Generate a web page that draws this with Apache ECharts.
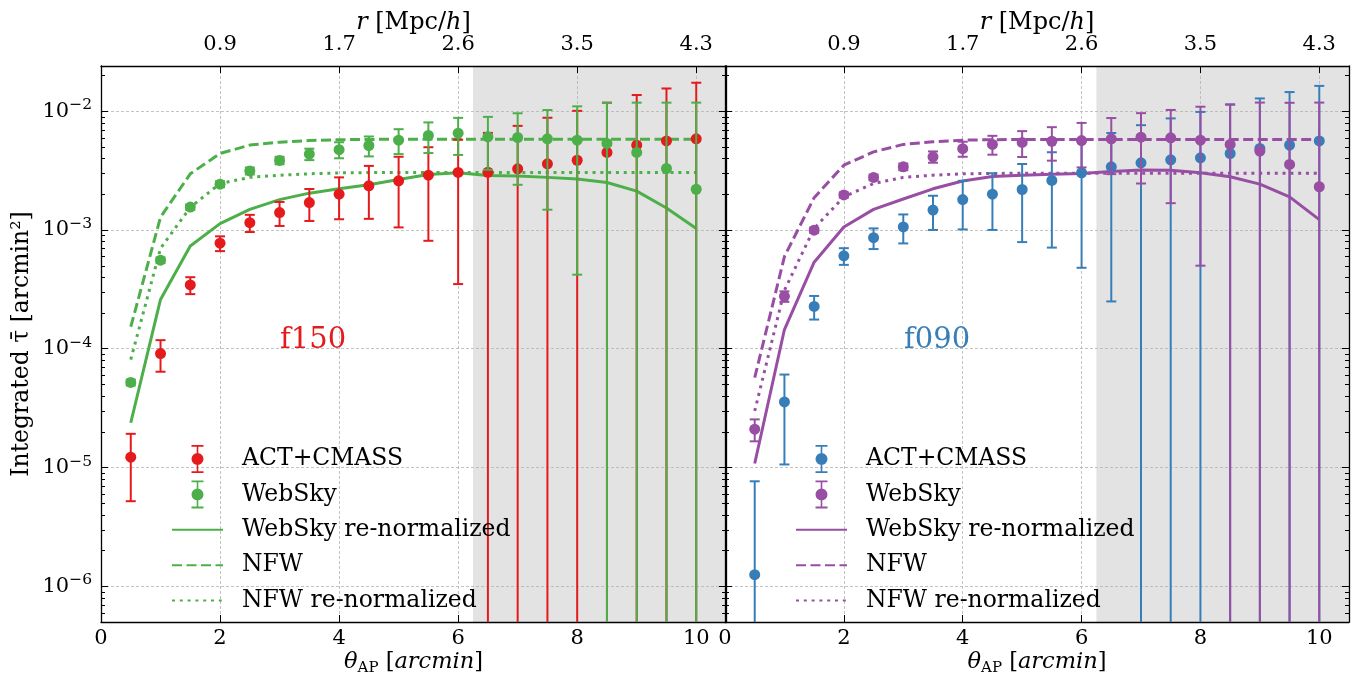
<!DOCTYPE html>
<html><head><meta charset="utf-8">
<script src="https://cdn.jsdelivr.net/npm/echarts@6/dist/echarts.min.js"></script>
<style>html,body{margin:0;padding:0;background:#fff}#c{width:1361px;height:673px}</style>
</head><body><div id="c"></div>
<script>
// ---------------- data ----------------
const thetaAP = [0.5,1.0,1.5,2.0,2.5,3.0,3.5,4.0,4.5,5.0,5.5,6.0,6.5,7.0,7.5,8.0,8.5,9.0,9.5,10.0];

// f150 panel
const act150    = [1.22e-5,9.1e-5,3.44e-4,7.73e-4,1.15e-3,1.40e-3,1.70e-3,2.0e-3,2.35e-3,2.59e-3,2.89e-3,3.05e-3,3.06e-3,3.27e-3,3.6e-3,3.86e-3,4.49e-3,5.17e-3,5.62e-3,5.85e-3];
const act150Err = [7e-6,2.7e-5,5.6e-5,1.1e-4,1.9e-4,3.2e-4,5.1e-4,7.7e-4,1.11e-3,1.54e-3,2.08e-3,2.7e-3,3.5e-3,4.25e-3,5.2e-3,6.2e-3,7.3e-3,8.5e-3,9.9e-3,1.15e-2];
const ws150     = [5.2e-5,5.56e-4,1.556e-3,2.43e-3,3.14e-3,3.85e-3,4.35e-3,4.74e-3,5.14e-3,5.7e-3,6.24e-3,6.53e-3,6.08e-3,6.0e-3,5.85e-3,5.7e-3,5.35e-3,4.49e-3,3.29e-3,2.2e-3];
const ws150Err  = [3e-6,3e-5,8e-5,1.4e-4,2.1e-4,2.8e-4,4.8e-4,7.3e-4,9.8e-4,1.35e-3,1.8e-3,2.25e-3,2.87e-3,3.6e-3,4.37e-3,5.28e-3,6.4e-3,7.3e-3,8.5e-3,9.6e-3];
const wsRenorm150  = [2.38e-5,2.6e-4,7.33e-4,1.13e-3,1.49e-3,1.80e-3,2.04e-3,2.22e-3,2.4e-3,2.66e-3,2.93e-3,3.03e-3,2.87e-3,2.84e-3,2.77e-3,2.69e-3,2.51e-3,2.12e-3,1.53e-3,1.03e-3];
const nfw150       = [1.53e-4,1.28e-3,2.97e-3,4.4e-3,5.18e-3,5.48e-3,5.66e-3,5.75e-3,5.78e-3,5.8e-3,5.8e-3,5.8e-3,5.8e-3,5.8e-3,5.8e-3,5.8e-3,5.8e-3,5.8e-3,5.8e-3,5.8e-3];
const nfwRenorm150 = [8.1e-5,7.0e-4,1.55e-3,2.46e-3,2.77e-3,2.89e-3,2.97e-3,3.02e-3,3.04e-3,3.05e-3,3.05e-3,3.05e-3,3.05e-3,3.05e-3,3.05e-3,3.05e-3,3.05e-3,3.05e-3,3.05e-3,3.05e-3];

// f090 panel
const act090    = [1.25e-6,3.56e-5,2.27e-4,6.05e-4,8.6e-4,1.06e-3,1.47e-3,1.80e-3,2.0e-3,2.19e-3,2.61e-3,3.03e-3,3.4e-3,3.67e-3,3.89e-3,4.05e-3,4.4e-3,4.85e-3,5.18e-3,5.62e-3];
const act090Err = [6.4e-6,2.5e-5,5.1e-5,9.7e-5,1.7e-4,2.9e-4,4.7e-4,7.9e-4,1.0e-3,1.4e-3,1.9e-3,2.55e-3,3.15e-3,3.95e-3,4.8e-3,5.8e-3,7.0e-3,7.95e-3,9.3e-3,1.07e-2];
const ws090     = [2.1e-5,2.76e-4,9.96e-4,1.97e-3,2.77e-3,3.4e-3,4.13e-3,4.83e-3,5.25e-3,5.45e-3,5.58e-3,5.66e-3,5.85e-3,6.04e-3,5.96e-3,5.7e-3,5.25e-3,4.61e-3,3.56e-3,2.31e-3];
const ws090Err  = [4.4e-6,2.8e-5,5e-5,1e-4,1.5e-4,2.2e-4,4.5e-4,7e-4,9.5e-4,1.34e-3,1.75e-3,2.3e-3,2.9e-3,3.58e-3,4.28e-3,5.2e-3,6.1e-3,7.2e-3,8.2e-3,9.5e-3];
const wsRenorm090  = [1.08e-5,1.45e-4,5.35e-4,1.06e-3,1.49e-3,1.82e-3,2.22e-3,2.58e-3,2.82e-3,2.89e-3,2.94e-3,2.99e-3,3.1e-3,3.2e-3,3.18e-3,3.03e-3,2.8e-3,2.43e-3,1.9e-3,1.22e-3];
const nfw090       = [5.7e-5,5.97e-4,1.87e-3,3.51e-3,4.54e-3,5.25e-3,5.52e-3,5.7e-3,5.75e-3,5.77e-3,5.78e-3,5.78e-3,5.78e-3,5.78e-3,5.78e-3,5.78e-3,5.78e-3,5.78e-3,5.78e-3,5.78e-3];
const nfwRenorm090 = [2.99e-5,3.1e-4,1.03e-3,1.9e-3,2.46e-3,2.77e-3,2.89e-3,2.97e-3,2.99e-3,3.0e-3,3.0e-3,3.0e-3,3.0e-3,3.0e-3,3.0e-3,3.0e-3,3.0e-3,3.0e-3,3.0e-3,3.0e-3];

// axes / annotations
const bottomTicks = [0,2,4,6,8,10];
const topTicks    = [2,4,6,8,10];
const topLabels   = ['0.9','1.7','2.6','3.5','4.3'];
const shadeRange  = [6.25, 10.5];
const bandLabels  = ['f150','f090'];
const legendNames = ['ACT+CMASS','WebSky','WebSky re-normalized','NFW','NFW re-normalized'];

// ---------------- layout / style ----------------
const FONT = 'DejaVu Serif';
const X_MIN = 0, X_MAX = 10.5, Y_MIN = 5e-7, Y_MAX = 2.4e-2;
const GRIDS = [{left:101, top:66, width:625, height:556},{left:725, top:66, width:624, height:556}];
const COL = {red:'#e41a1c', blue:'#377eb8', green:'#4daf4a', purple:'#984ea3'};
const EB_ICON = 'path://M0,0 H12 V1.8 H6.8 V26.2 H12 V28 H0 V26.2 H5.2 V1.8 H0 Z M12,14 A6,6 0 1,1 0,14 A6,6 0 1,1 12,14 Z';
const LW = 3;

const minorVals = [];
for (let e = -7; e <= -2; e++) for (let m = 2; m <= 9; m++) { const v = m * Math.pow(10, e); if (v > Y_MIN && v < Y_MAX) minorVals.push(v); }

const pairs = (ys) => thetaAP.map((t, i) => [t, ys[i]]);
const triples = (ys, es) => thetaAP.map((t, i) => [t, ys[i], es[i]]);

function errRender(params, api) {
  const x = api.value(0), v = api.value(1), e = api.value(2);
  const lo = v - e, hi = v + e;
  const color = api.visual('color');
  const top = api.coord([x, hi]);
  const bot = api.coord([x, lo > Y_MIN ? lo : Y_MIN / 2]);
  const st = {stroke: color, lineWidth: 2};
  const ch = [{type:'line', shape:{x1:top[0], y1:top[1], x2:bot[0], y2:bot[1]}, style: st},
              {type:'line', shape:{x1:top[0]-5, y1:top[1], x2:top[0]+5, y2:top[1]}, style: st}];
  if (lo > Y_MIN) ch.push({type:'line', shape:{x1:bot[0]-5, y1:bot[1], x2:bot[0]+5, y2:bot[1]}, style: st});
  return {type:'group', children: ch};
}
function minorRender(params, api) {
  const v = api.value(1);
  const l = api.coord([X_MIN, v]), r = api.coord([X_MAX, v]);
  const st = {stroke:'#000', lineWidth:1};
  return {type:'group', children:[
    {type:'line', shape:{x1:l[0], y1:Math.round(l[1])+0.5, x2:l[0]+4, y2:Math.round(l[1])+0.5}, style:st},
    {type:'line', shape:{x1:r[0]-4, y1:Math.round(r[1])+0.5, x2:r[0], y2:Math.round(r[1])+0.5}, style:st}]};
}
function shadeRender(params, api) {
  const a = api.coord([api.value(0), Y_MAX]), b = api.coord([api.value(1), Y_MIN]);
  return {type:'rect', shape:{x:a[0], y:a[1], width:b[0]-a[0], height:b[1]-a[1]}, style:{fill:'#e3e3e3'}};
}

const xAxes = [], yAxes = [], series = [], legends = [], graphics = [];
const panels = [
  {act:act150, actErr:act150Err, ws:ws150, wsErr:ws150Err, wsr:wsRenorm150, nfw:nfw150, nfwr:nfwRenorm150, cAct:COL.red, cWs:COL.green},
  {act:act090, actErr:act090Err, ws:ws090, wsErr:ws090Err, wsr:wsRenorm090, nfw:nfw090, nfwr:nfwRenorm090, cAct:COL.blue, cWs:COL.purple}
];

panels.forEach((P, p) => {
  const sfx = p === 0 ? '' : ' ';
  const xi = 2 * p, yi = 2 * p;
  // bottom x axis
  xAxes.push({type:'value', gridIndex:p, position:'bottom', min:X_MIN, max:X_MAX, interval:2,
    axisLine:{show:true, onZero:false, lineStyle:{color:'#000', width:1.3}},
    axisTick:{show:true, inside:true, length:7, lineStyle:{color:'#000', width:1}},
    axisLabel:{show:true, margin:6, color:'#000', fontFamily:FONT, fontSize:21, showMaxLabel:false,
      formatter: v => bottomTicks.indexOf(v) >= 0 ? String(v) : ''},
    splitLine:{show:true, lineStyle:{color:'#b4b4b4', width:0.8, type:[3,2]}},
    name:'{it|θ}{sub|AP} [{it|arcmin}]', nameLocation:'middle', nameGap:26, nameMoveOverlap:false,
    nameTextStyle:{color:'#000', fontFamily:FONT, fontSize:22.5, rich:{
      it:{fontFamily:FONT, fontStyle:'italic', fontSize:22.5, lineHeight:28, verticalAlign:'middle', color:'#000'},
      sub:{fontFamily:FONT, fontSize:15, lineHeight:18, verticalAlign:'bottom', color:'#000'}}}
  });
  // top x axis
  xAxes.push({type:'value', gridIndex:p, position:'top', min:X_MIN, max:X_MAX, interval:2,
    axisLine:{show:true, onZero:false, lineStyle:{color:'#000', width:1.3}},
    axisTick:{show:true, inside:true, length:7, lineStyle:{color:'#000', width:1}},
    axisLabel:{show:true, margin:11, color:'#000', fontFamily:FONT, fontSize:21, showMaxLabel:false, showMinLabel:false,
      formatter: v => { const k = topTicks.indexOf(v); return k >= 0 ? topLabels[k] : ''; }},
    splitLine:{show:false},
    name:'{it|r} [Mpc/{it|h}]', nameLocation:'middle', nameGap:31, nameMoveOverlap:false,
    nameTextStyle:{color:'#000', fontFamily:FONT, fontSize:24, rich:{
      it:{fontFamily:FONT, fontStyle:'italic', fontSize:24, color:'#000'}}}
  });
  // left y axis
  yAxes.push({type:'log', gridIndex:p, position:'left', min:Y_MIN, max:Y_MAX, logBase:10,
    axisLine:{show:true, onZero:false, lineStyle:{color:'#000', width:1.3}},
    axisTick:{show:true, inside:true, length:7, lineStyle:{color:'#000', width:1}},
    axisLabel:{show:p === 0, margin:9, color:'#000', showMinLabel:false, showMaxLabel:false,
      formatter: v => { const l = Math.log10(v), e = Math.round(l); if (Math.abs(l - e) > 1e-6) return ''; return '{b|10}{s|−' + Math.abs(e) + '}'; },
      rich:{b:{fontFamily:FONT, fontSize:21, lineHeight:28, verticalAlign:'middle', color:'#000'},
            s:{fontFamily:FONT, fontSize:15.5, lineHeight:14, verticalAlign:'top', color:'#000'}}},
    splitLine:{show:true, lineStyle:{color:'#b4b4b4', width:0.8, type:[3,2]}},
    name: p === 0 ? 'Integrated τ̄ [arcmin²]' : '', nameLocation:'middle', nameGap:67,
    nameTextStyle:{color:'#000', fontFamily:FONT, fontSize:23.5}
  });
  // right y axis (ticks only)
  yAxes.push({type:'log', gridIndex:p, position:'right', min:Y_MIN, max:Y_MAX, logBase:10,
    axisLine:{show:true, onZero:false, lineStyle:{color:'#000', width:1.3}},
    axisTick:{show:true, inside:true, length:7, lineStyle:{color:'#000', width:1}},
    axisLabel:{show:false}, splitLine:{show:false}
  });

  // shaded region
  series.push({type:'custom', name:'shade'+p, xAxisIndex:xi, yAxisIndex:yi, z:-1, silent:true,
    data:[shadeRange], dimensions:['a','b'], encode:{x:[0,1]}, renderItem: shadeRender, clip:true});
  // minor ticks
  series.push({type:'custom', name:'minor'+p, xAxisIndex:xi, yAxisIndex:yi, z:5, silent:true,
    data: minorVals.map(v => [X_MIN, v]), encode:{x:0, y:1}, renderItem: minorRender, clip:false});
  // model lines
  const lineBase = {type:'line', xAxisIndex:xi, yAxisIndex:yi, symbol:'none', showSymbol:false, z:2, clip:true, color:P.cWs};
  series.push(Object.assign({}, lineBase, {name:'WebSky re-normalized'+sfx, data:pairs(P.wsr),
    lineStyle:{color:P.cWs, width:LW, type:'solid'}}));
  series.push(Object.assign({}, lineBase, {name:'NFW'+sfx, data:pairs(P.nfw),
    lineStyle:{color:P.cWs, width:LW, type:[10,4.5]}}));
  series.push(Object.assign({}, lineBase, {name:'NFW re-normalized'+sfx, data:pairs(P.nfwr),
    lineStyle:{color:P.cWs, width:LW, type:[3,4.8]}}));
  // ACT error bars + points
  series.push({type:'custom', name:'actErr'+p, xAxisIndex:xi, yAxisIndex:yi, z:3, clip:true,
    itemStyle:{color:P.cAct}, dimensions:['x','y','e'], encode:{x:0, y:1},
    data: triples(P.act, P.actErr), renderItem: errRender});
  series.push({type:'scatter', name:'ACT+CMASS'+sfx, xAxisIndex:xi, yAxisIndex:yi, z:3,
    symbol:'circle', symbolSize:11, itemStyle:{color:P.cAct, opacity:1}, data: pairs(P.act)});
  // WebSky error bars + points
  series.push({type:'custom', name:'wsErr'+p, xAxisIndex:xi, yAxisIndex:yi, z:4, clip:true,
    itemStyle:{color:P.cWs}, dimensions:['x','y','e'], encode:{x:0, y:1},
    data: triples(P.ws, P.wsErr), renderItem: errRender});
  series.push({type:'scatter', name:'WebSky'+sfx, xAxisIndex:xi, yAxisIndex:yi, z:4,
    symbol:'circle', symbolSize:11, itemStyle:{color:P.cWs, opacity:1}, data: pairs(P.ws)});

  const hideSym = {color:'rgba(0,0,0,0)', borderWidth:0, opacity:0};
  legends.push({orient:'vertical', left: GRIDS[p].left + 65, top: 440, itemWidth:51, itemHeight:28, itemGap:7.4,
    selectedMode:false,
    textStyle:{fontFamily:FONT, fontSize:23.5, color:'#000', lineHeight:28, padding:[0,0,0,14]},
    data:[{name:legendNames[0]+sfx, icon:EB_ICON}, {name:legendNames[1]+sfx, icon:EB_ICON},
          {name:legendNames[2]+sfx, itemStyle:hideSym},
          {name:legendNames[3]+sfx, itemStyle:hideSym},
          {name:legendNames[4]+sfx, itemStyle:hideSym}]});

  graphics.push({type:'text', left: GRIDS[p].left + 179, top: 326, z:10,
    style:{text: bandLabels[p], fill: P.cAct, font: '29px "' + FONT + '"'}});
});

const chart = echarts.init(document.getElementById('c'), null, {renderer:'canvas'});
chart.setOption({
  animation:false, backgroundColor:'#fff',
  grid: GRIDS.map(g => Object.assign({show:false, containLabel:false, outerBoundsMode:'none'}, g)),
  xAxis: xAxes, yAxis: yAxes, series: series, legend: legends, graphic: graphics
});
</script></body></html>
